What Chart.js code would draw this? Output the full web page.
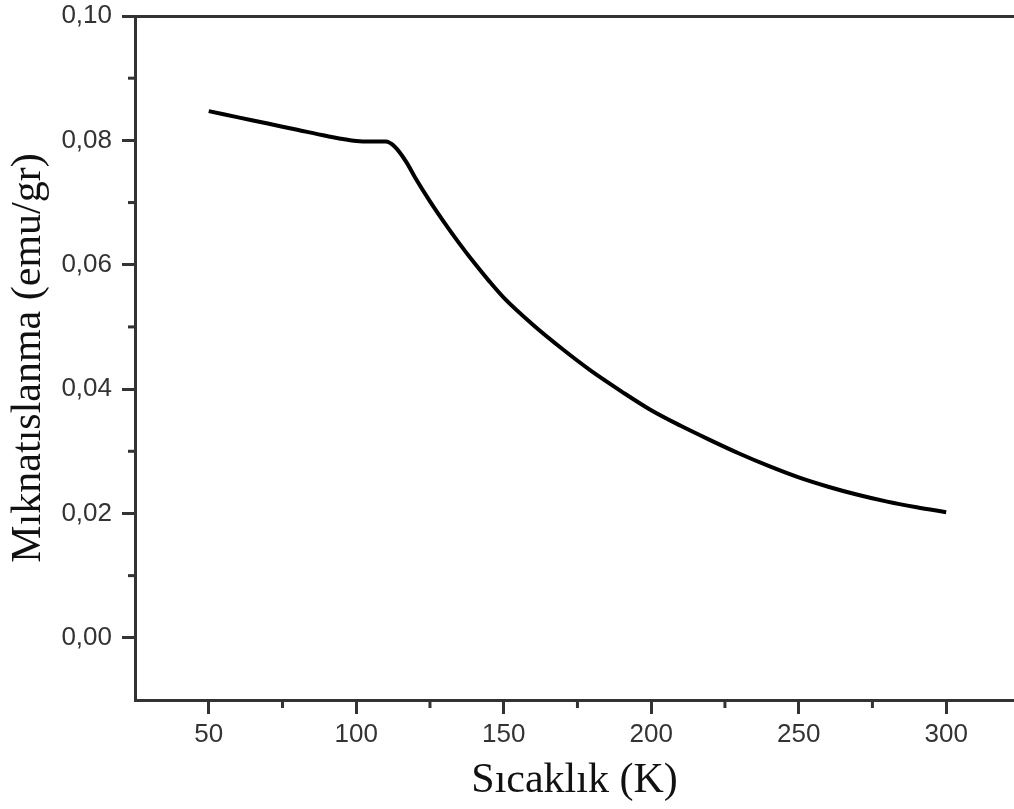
<!DOCTYPE html>
<html>
<head>
<meta charset="utf-8">
<script src="https://cdn.jsdelivr.net/npm/chart.js@4.4.1/dist/chart.umd.min.js"></script>
<style>
  html, body { margin: 0; padding: 0; background: #fff; }
</style>
</head>
<body>
<canvas id="chart" width="1014" height="809"></canvas>
<script>
// Sıcaklık (K)
const temperature = [50, 60, 70, 80, 90, 100, 105, 110, 113, 117, 120, 125, 130, 135, 140, 145, 150,
  160, 170, 180, 190, 200, 210, 220, 230, 240, 250, 260, 270, 280, 290, 300];
// Mıknatıslanma (emu/gr)
const magnetization = [0.0847, 0.0837, 0.0827, 0.0817, 0.0807, 0.0799, 0.0798, 0.0798, 0.0790, 0.0765,
  0.0740, 0.0702, 0.0667, 0.0634, 0.0603, 0.0574, 0.0547, 0.0503, 0.0464, 0.0428, 0.0396, 0.0366,
  0.0341, 0.0318, 0.0296, 0.0276, 0.0258, 0.0243, 0.0230, 0.0219, 0.0210, 0.0202];

// Etiketli tick'ler
const xTickValues = [50, 100, 150, 200, 250, 300];
const xTickLabels = ['50', '100', '150', '200', '250', '300'];
const yTickValues = [0, 0.02, 0.04, 0.06, 0.08, 0.10];
const yTickLabels = ['0,00', '0,02', '0,04', '0,06', '0,08', '0,10'];

const axisColor = '#333';
const tickFont = { family: "'Liberation Sans', Arial, sans-serif", size: 26 };
const titleFont = { family: "'Liberation Serif', 'Times New Roman', serif", size: 42, lineHeight: 1 };

function findLabel(values, labels, v) {
  const i = values.findIndex(t => Math.abs(t - v) < 1e-6);
  return i >= 0 ? labels[i] : '';
}

function isMajor(values, v) {
  return values.some(t => Math.abs(t - v) < 1e-6);
}

// Ara (kısa) tick'leri çiz
const minorTicks = {
  id: 'minorTicks',
  afterDraw(chart) {
    const { ctx, chartArea, scales } = chart;
    ctx.save();
    ctx.strokeStyle = axisColor;
    ctx.lineWidth = 3;
    scales.x.ticks.forEach(t => {
      if (isMajor(xTickValues, t.value) || t.value <= scales.x.min) return;
      const px = scales.x.getPixelForValue(t.value);
      ctx.beginPath();
      ctx.moveTo(px, chartArea.bottom);
      ctx.lineTo(px, chartArea.bottom + 8);
      ctx.stroke();
    });
    scales.y.ticks.forEach(t => {
      if (isMajor(yTickValues, t.value) || t.value <= scales.y.min) return;
      const py = scales.y.getPixelForValue(t.value);
      ctx.beginPath();
      ctx.moveTo(chartArea.left, py);
      ctx.lineTo(chartArea.left - 7, py);
      ctx.stroke();
    });
    ctx.restore();
  }
};

new Chart(document.getElementById('chart'), {
  type: 'line',
  data: {
    labels: temperature,
    datasets: [{
      data: temperature.map((t, i) => ({ x: t, y: magnetization[i] })),
      borderColor: '#000',
      borderWidth: 4,
      pointRadius: 0,
      cubicInterpolationMode: 'monotone',
      fill: false
    }]
  },
  options: {
    responsive: false,
    animation: false,
    layout: { padding: { top: 16, right: 0, left: 0, bottom: 0 } },
    plugins: {
      legend: { display: false },
      tooltip: { enabled: false }
    },
    scales: {
      x: {
        type: 'linear',
        position: 'bottom',
        min: 25,
        max: 323,
        afterFit: (scale) => { scale.height = 109; },
        ticks: {
          stepSize: 25,
          includeBounds: false,
          autoSkip: false,
          maxRotation: 0,
          padding: 5,
          color: axisColor,
          font: tickFont,
          callback: (v) => findLabel(xTickValues, xTickLabels, v)
        },
        grid: {
          drawOnChartArea: false,
          drawTicks: true,
          tickLength: 14,
          tickWidth: 3,
          tickColor: (c) => (c.tick && isMajor(xTickValues, c.tick.value)) ? axisColor : 'rgba(0,0,0,0)'
        },
        border: { display: true, color: axisColor, width: 3 },
        title: {
          display: true,
          text: 'Sıcaklık (K)',
          color: '#111',
          font: titleFont,
          padding: { top: 0, bottom: 7 }
        }
      },
      xTop: {
        type: 'linear',
        position: 'top',
        min: 25,
        max: 323,
        afterFit: (scale) => { scale.height = 0; },
        ticks: { display: false },
        grid: { drawOnChartArea: false, drawTicks: false },
        border: { display: true, color: axisColor, width: 3 }
      },
      y: {
        type: 'linear',
        position: 'left',
        min: -0.01,
        max: 0.10,
        afterFit: (scale) => { scale.width = 135; scale.paddingTop = 0; },
        ticks: {
          stepSize: 0.01,
          autoSkip: false,
          padding: 10,
          color: axisColor,
          font: tickFont,
          callback: (v) => findLabel(yTickValues, yTickLabels, v)
        },
        grid: {
          drawOnChartArea: false,
          drawTicks: true,
          tickLength: 13,
          tickWidth: 3,
          tickColor: (c) => (c.tick && isMajor(yTickValues, c.tick.value)) ? axisColor : 'rgba(0,0,0,0)'
        },
        border: { display: true, color: axisColor, width: 3 },
        title: {
          display: true,
          text: 'Mıknatıslanma (emu/gr)',
          color: '#111',
          font: titleFont,
          padding: { top: 8, bottom: 0 }
        }
      }
    }
  },
  plugins: [minorTicks]
});
</script>
</body>
</html>
